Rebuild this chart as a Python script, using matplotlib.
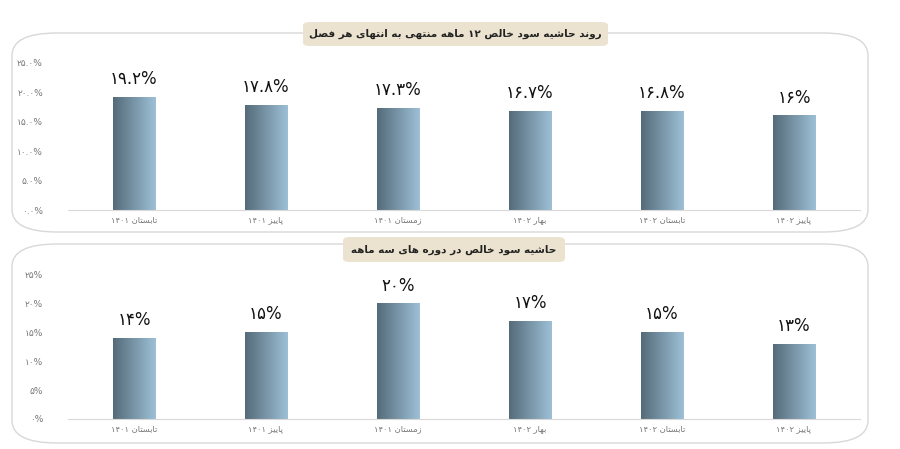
import matplotlib.pyplot as plt
import numpy as np
from matplotlib.patches import FancyBboxPatch

plt.rcParams['font.family'] = ['DejaVu Sans']

# داده ها
categories = ['تابستان ۱۴۰۱', 'پاییز ۱۴۰۱', 'زمستان ۱۴۰۱', 'بهار ۱۴۰۲', 'تابستان ۱۴۰۲', 'پاییز ۱۴۰۲']
margin_12m = [19.2, 17.8, 17.3, 16.7, 16.8, 16.0]
labels_12m = ['۱۹.۲%', '۱۷.۸%', '۱۷.۳%', '۱۶.۷%', '۱۶.۸%', '۱۶%']
ticks_12m = ['۰.۰%', '۵.۰%', '۱۰.۰%', '۱۵.۰%', '۲۰.۰%', '۲۵.۰%']
margin_3m = [14, 15, 20, 17, 15, 13]
labels_3m = ['۱۴%', '۱۵%', '۲۰%', '۱۷%', '۱۵%', '۱۳%']
ticks_3m = ['۰%', '۵%', '۱۰%', '۱۵%', '۲۰%', '۲۵%']
title_12m = 'روند حاشیه سود خالص ۱۲ ماهه منتهی به انتهای هر فصل'
title_3m = 'حاشیه سود خالص در دوره های سه ماهه'

# شکل دهی ساده حروف فارسی (isolated, final, initial, medial)
FORMS = {
    'ا': (0xFE8D, 0xFE8E, None, None), 'ب': (0xFE8F, 0xFE90, 0xFE91, 0xFE92),
    'پ': (0xFB56, 0xFB57, 0xFB58, 0xFB59), 'ت': (0xFE95, 0xFE96, 0xFE97, 0xFE98),
    'ح': (0xFEA1, 0xFEA2, 0xFEA3, 0xFEA4), 'خ': (0xFEA5, 0xFEA6, 0xFEA7, 0xFEA8),
    'د': (0xFEA9, 0xFEAA, None, None), 'ر': (0xFEAD, 0xFEAE, None, None),
    'ز': (0xFEAF, 0xFEB0, None, None), 'س': (0xFEB1, 0xFEB2, 0xFEB3, 0xFEB4),
    'ش': (0xFEB5, 0xFEB6, 0xFEB7, 0xFEB8), 'ص': (0xFEB9, 0xFEBA, 0xFEBB, 0xFEBC),
    'ف': (0xFED1, 0xFED2, 0xFED3, 0xFED4), 'ک': (0xFB8E, 0xFB8F, 0xFB90, 0xFB91),
    'ل': (0xFEDD, 0xFEDE, 0xFEDF, 0xFEE0), 'م': (0xFEE1, 0xFEE2, 0xFEE3, 0xFEE4),
    'ن': (0xFEE5, 0xFEE6, 0xFEE7, 0xFEE8), 'ه': (0xFEE9, 0xFEEA, 0xFEEB, 0xFEEC),
    'و': (0xFEED, 0xFEEE, None, None), 'ی': (0xFBFC, 0xFBFD, 0xFBFE, 0xFBFF),
}


def shape_word(w):
    out = []
    for i, ch in enumerate(w):
        if ch not in FORMS:
            out.append(ch)
            continue
        prev = w[i - 1] if i > 0 else None
        nxt = w[i + 1] if i < len(w) - 1 else None
        joins_prev = prev in FORMS and FORMS[prev][2] is not None
        joins_next = nxt in FORMS and FORMS[ch][2] is not None
        f = FORMS[ch]
        if joins_prev and joins_next:
            out.append(chr(f[3]))
        elif joins_prev:
            out.append(chr(f[1]))
        elif joins_next:
            out.append(chr(f[2]))
        else:
            out.append(chr(f[0]))
    s = ''.join(out)
    if any(c in FORMS for c in w):
        s = s[::-1]
    return s


def fa(text):
    return ' '.join(shape_word(w) for w in text.split(' ')[::-1])


fig = plt.figure(figsize=(9, 4.49), dpi=100)
W, H = 900, 449

# قاب ها و عنوان ها
for (x0, y0, x1, y1) in [(12, 33, 868, 232), (12, 244, 868, 443)]:
    fig.patches.append(FancyBboxPatch((x0 / W, 1 - y1 / H), (x1 - x0) / W, (y1 - y0) / H,
                                      boxstyle='round,pad=0,rounding_size=0.05',
                                      transform=fig.transFigure, fc='white', ec='#d8d8d8',
                                      lw=1, zorder=-2))
for (x0, y0, x1, y1, t) in [(303, 22, 608, 46, title_12m), (343, 237, 565, 262, title_3m)]:
    fig.patches.append(FancyBboxPatch((x0 / W, 1 - y1 / H), (x1 - x0) / W, (y1 - y0) / H,
                                      boxstyle='round,pad=0,rounding_size=0.008',
                                      transform=fig.transFigure, fc='#ebe3cf', ec='none',
                                      zorder=-1))
    fig.text((x0 + x1) / 2 / W, 1 - (y0 + y1) / 2 / H, fa(t), ha='center', va='center',
             fontsize=7.5, fontweight='bold', color='#222222')

cmap = plt.matplotlib.colors.LinearSegmentedColormap.from_list('g', ['#556b7a', '#9dc0d6'])
grad = np.linspace(0, 1, 64).reshape(1, -1)

panels = [
    ((68, 63, 860, 210), margin_12m, labels_12m, ticks_12m),
    ((68, 275, 860, 419), margin_3m, labels_3m, ticks_3m),
]
for (x0, ytop, x1, ybot), vals, labs, ticks in panels:
    ax = fig.add_axes([x0 / W, 1 - ybot / H, (x1 - x0) / W, (ybot - ytop) / H])
    ax.set_xlim(-0.5, len(vals) - 0.5)
    ax.set_ylim(0, 25)
    bars = ax.bar(range(len(vals)), vals, width=0.32, color='none')
    for b, lab in zip(bars, labs):
        bx, bw, bh = b.get_x(), b.get_width(), b.get_height()
        ax.imshow(grad, cmap=cmap, aspect='auto', extent=(bx, bx + bw, 0, bh), zorder=2)
        ax.text(bx + bw / 2, bh + 1.6, lab, ha='center', va='bottom', fontsize=12, color='#111111')
    ax.set_xlim(-0.5, len(vals) - 0.5)
    ax.set_ylim(0, 25)
    ax.set_yticks(range(0, 26, 5))
    ax.set_yticklabels(ticks, fontsize=6.5, color='#777777')
    ax.set_xticks(range(len(vals)))
    ax.set_xticklabels([fa(c) for c in categories], fontsize=6, color='#777777')
    ax.tick_params(length=0, pad=4)
    ax.tick_params(axis='y', pad=18)
    for s in ['top', 'right', 'left']:
        ax.spines[s].set_visible(False)
    ax.spines['bottom'].set_color('#d9d9d9')
    ax.patch.set_alpha(0)

fig.savefig('out.png', dpi=100)
